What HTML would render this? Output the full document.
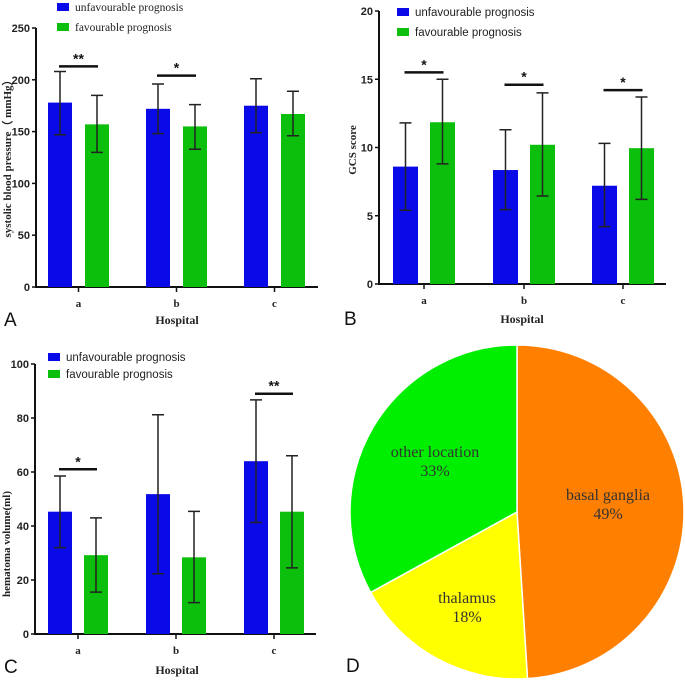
<!DOCTYPE html>
<html><head><meta charset="utf-8"><style>
body{margin:0;background:#fff;}
svg{display:block;}
.tk{font-family:"Liberation Sans",sans-serif;font-weight:bold;font-size:11px;fill:#222;}
.cat{font-family:"Liberation Serif",serif;font-weight:bold;font-size:11px;fill:#222;}
.ttl{font-family:"Liberation Serif",serif;font-weight:bold;font-size:11px;fill:#222;}
.lg{font-size:11.5px;fill:#222;}
.pl{font-family:"Liberation Sans",sans-serif;font-size:19px;fill:#111;}
.pie{font-family:"Liberation Serif",serif;font-size:16px;fill:#333;}
</style></head><body>
<svg id="fig" width="685" height="683" viewBox="0 0 685 683" xmlns="http://www.w3.org/2000/svg"></svg>
<script>
const categories=["a","b","c"];
// Panel A
const aBlue=[178,172,175], aGreen=[157,155,167];
const aBlueLo=[147,148,149], aBlueHi=[208,196,201];
const aGreenLo=[130,133,146], aGreenHi=[185,176,189];
const aTicks=[0,50,100,150,200,250];
const aSig=["**","*",""];
const aSigVal=[213,204,0];
// Panel B
const bBlue=[8.6,8.35,7.2], bGreen=[11.85,10.2,9.95];
const bBlueLo=[5.4,5.45,4.2], bBlueHi=[11.8,11.3,10.3];
const bGreenLo=[8.8,6.45,6.2], bGreenHi=[15,14,13.7];
const bTicks=[0,5,10,15,20];
const bSig=["*","*","*"];
const bSigVal=[15.5,14.6,14.2];
// Panel C
const cBlue=[45.3,51.8,64], cGreen=[29.2,28.4,45.3];
const cBlueLo=[32,22.3,41.3], cBlueHi=[58.5,81.2,86.7];
const cGreenLo=[15.5,11.6,24.5], cGreenHi=[43,45.4,66];
const cTicks=[0,20,40,60,80,100];
const cSig=["*","","**"];
const cSigVal=[61,0,89];
// Panel D
const pieLabels=["basal ganglia","thalamus","other location"];
const pieValues=[49,18,33];

const svg=document.getElementById('fig');
const NS="http://www.w3.org/2000/svg";
function mk(tag,attrs,parent){const e=document.createElementNS(NS,tag);for(const k in attrs)e.setAttribute(k,attrs[k]);(parent||svg).appendChild(e);return e;}
function txt(s,attrs,parent){const e=mk('text',attrs,parent);e.textContent=s;return e;}

function panel(o){
  const g=mk('g',{});
  
  
  const y=v=>o.y0-(v/o.max)*(o.y0-o.yTop);
  const ax=mk('path',{d:`M${o.x0},${o.yTop} V${o.y0} H${o.xEnd}`,stroke:'#111','stroke-width':2,fill:'none'},g);
  
  
  o.ticks.forEach(t=>{
    mk('line',{x1:o.x0-4,x2:o.x0,y1:y(t),y2:y(t),stroke:'#111','stroke-width':1.5},g);
    const l=txt(String(t),{x:o.x0-6,y:y(t)+4,'text-anchor':'end',class:'tk'},g);
    
    
  });
  categories.forEach((c,i)=>{
    const bx=o.bx[i], gx=bx+o.gap;
    const cx=(bx+gx+o.bw)/2;
    mk('line',{x1:cx,x2:cx,y1:o.y0,y2:o.y0+5,stroke:'#111','stroke-width':1.5},g);
    const cl=txt(c,{x:cx,y:o.y0+20,'text-anchor':'middle',class:'cat'},g);
    
    
    [[o.blue,o.blueLo,o.blueHi,bx,'#0a0ae8','bar-unfavourable-'+c],[o.green,o.greenLo,o.greenHi,gx,'#0cbf0c','bar-favourable-'+c]].forEach(s=>{
      const v=s[0][i];
      const r=mk('rect',{x:s[3],y:y(v),width:o.bw,height:o.y0-y(v),fill:s[4]},g);
      
      
      const ex=s[3]+o.bw/2, lo=y(s[1][i]), hi=y(s[2][i]);
      const eb=mk('path',{d:`M${ex},${lo} V${hi} M${ex-6},${lo} H${ex+6} M${ex-6},${hi} H${ex+6}`,stroke:'#222','stroke-width':1.5,fill:'none'},g);
      
      
    });
    if(o.sig[i]){
      const sy=y(o.sigVal[i]);
      const sl=mk('line',{x1:bx+o.bw/2-1,x2:gx+o.bw/2+1,y1:sy,y2:sy,stroke:'#111','stroke-width':2.5},g);
      
      
      const st=txt(o.sig[i],{x:cx,y:sy-3,'text-anchor':'middle',style:'font-family:Liberation Sans,sans-serif;font-weight:bold;font-size:14px;fill:#111'},g);
      
      
    }
  });
  const yt=txt(o.ytitle,{transform:`translate(${o.ytx},${o.yty}) rotate(-90)`,'text-anchor':'middle',class:'ttl'},g);
  
  
  const xt=txt('Hospital',{x:o.xtx,y:o.xty,'text-anchor':'middle',class:'ttl',style:'font-size:12px'},g);
  
  
  [['unfavourable prognosis','#0a0ae8',0],['favourable prognosis','#0cbf0c',1]].forEach(L=>{
    const ly=o.lgy+L[2]*o.lgdy;
    const lr=mk('rect',{x:o.lgx,y:ly-4,width:12,height:8,fill:L[1]},g);
    
    
    const lt=txt(L[0],{x:o.lgx+18,y:ly+4,class:'lg',style:'font-family:'+o.lgfont},g);
    
    
  });
  const pl=txt(o.letter,{x:o.plx,y:o.ply,class:'pl'},g);
  
  
}

panel({name:'panel-a-systolic',x0:36,xEnd:318,y0:287,yTop:28,max:250,ticks:aTicks,bx:[48,146,244],gap:37,bw:24,
  blue:aBlue,green:aGreen,blueLo:aBlueLo,blueHi:aBlueHi,greenLo:aGreenLo,greenHi:aGreenHi,sig:aSig,sigVal:aSigVal,
  ytitle:'systolic blood pressure（ mmHg）',ytx:11,yty:156,xtx:177,xty:324,lgx:57,lgy:7,lgdy:20,lgfont:'Liberation Serif,serif',letter:'A',plx:4,ply:326});
panel({name:'panel-b-gcs',x0:379,xEnd:666,y0:284,yTop:11,max:20,ticks:bTicks,bx:[393,493,592],gap:37,bw:25,
  blue:bBlue,green:bGreen,blueLo:bBlueLo,blueHi:bBlueHi,greenLo:bGreenLo,greenHi:bGreenHi,sig:bSig,sigVal:bSigVal,
  ytitle:'GCS score',ytx:356,yty:150,xtx:522,xty:323,lgx:397,lgy:12,lgdy:20,lgfont:'Liberation Sans,sans-serif',letter:'B',plx:344,ply:325});
panel({name:'panel-c-hematoma',x0:35,xEnd:316,y0:634,yTop:364,max:100,ticks:cTicks,bx:[48,146,244],gap:36,bw:24,
  blue:cBlue,green:cGreen,blueLo:cBlueLo,blueHi:cBlueHi,greenLo:cGreenLo,greenHi:cGreenHi,sig:cSig,sigVal:cSigVal,
  ytitle:'hematoma volume(ml)',ytx:10,yty:544,xtx:177,xty:674,lgx:48,lgy:357,lgdy:17,lgfont:'Liberation Sans,sans-serif',letter:'C',plx:4,ply:673});

// Pie
const pg=mk('g',{});


const pcx=517,pcy=512,pr=167;
const pieColors=['#ff7f00','#ffff00','#00ee00'];
const labelPos=[[608,500],[467,603],[435,457]];
const total=pieValues.reduce((a,b)=>a+b,0);
let ang=0;
pieValues.forEach((v,i)=>{
  const a0=ang, a1=ang+v/total*2*Math.PI; ang=a1;
  const p=t=>[pcx+pr*Math.sin(t),pcy-pr*Math.cos(t)];
  const s=p(a0),e=p(a1);
  const sl=mk('path',{d:`M${pcx},${pcy} L${s[0]},${s[1]} A${pr},${pr} 0 ${a1-a0>Math.PI?1:0} 1 ${e[0]},${e[1]} Z`,fill:pieColors[i],stroke:'#fff','stroke-width':1.5},pg);
  
  
});
pieValues.forEach((v,i)=>{
  const t1=txt(pieLabels[i],{x:labelPos[i][0],y:labelPos[i][1],'text-anchor':'middle',class:'pie'},pg);
  
  
  const t2=txt(v+'%',{x:labelPos[i][0],y:labelPos[i][1]+19,'text-anchor':'middle',class:'pie'},pg);
  
  
});
const dl=txt('D',{x:346,y:672,class:'pl'},pg);


</script>
</body></html>
